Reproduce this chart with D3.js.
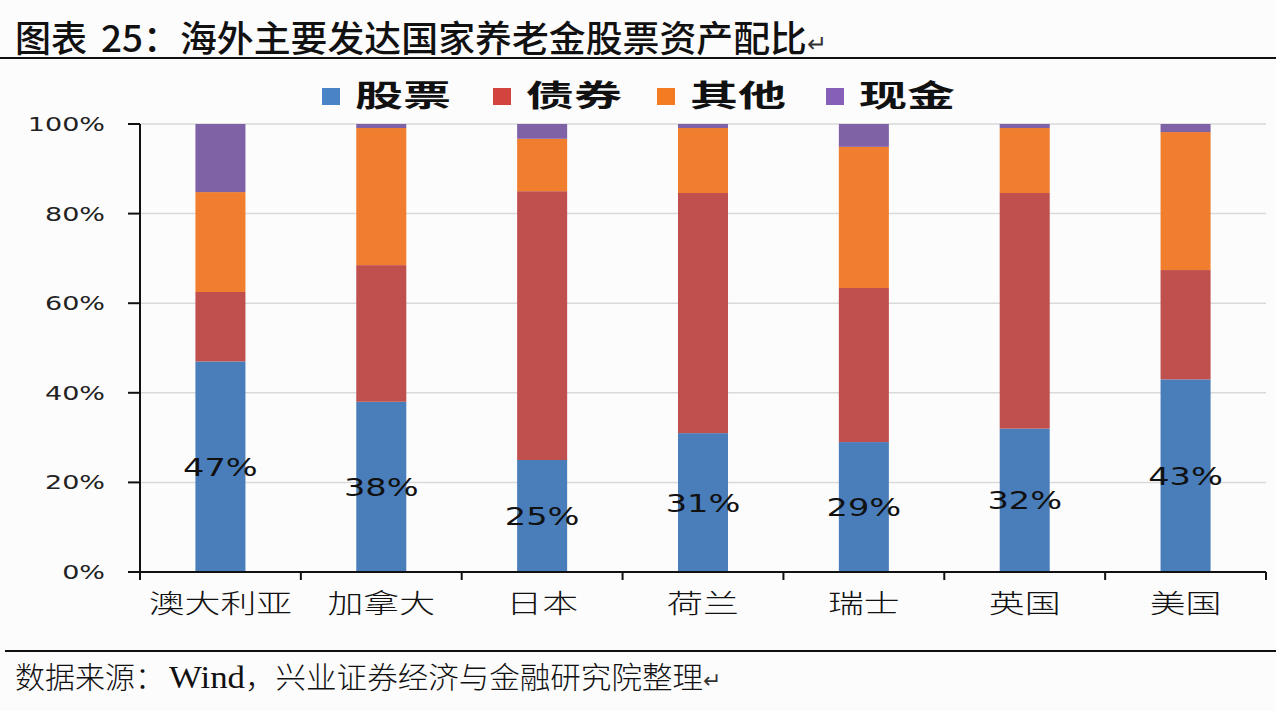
<!DOCTYPE html>
<html>
<head>
<meta charset="utf-8">
<script src="https://cdn.jsdelivr.net/npm/d3@7"></script>
<style>
  html, body { margin: 0; padding: 0; background: #fdfcfd; }
  svg { display: block; }
</style>
</head>
<body>
<svg id="chart" width="1276" height="711"></svg>
<script>
const countries = ['澳大利亚', '加拿大', '日本', '荷兰', '瑞士', '英国', '美国'];
const seriesNames = ['股票', '债券', '其他', '现金'];
const stock = [47, 38, 25, 31, 29, 32, 43];
const bond  = [15.5, 30.5, 60, 53.6, 34.4, 52.6, 24.4];
const other = [22.3, 30.6, 11.7, 14.5, 31.5, 14.5, 30.8];
const cash  = [15.2, 0.9, 3.3, 0.9, 5.1, 0.9, 1.8];
const stockLabels = ['47%', '38%', '25%', '31%', '29%', '32%', '43%'];
const yTicks = [0, 20, 40, 60, 80, 100];
const yTickLabels = ['0%', '20%', '40%', '60%', '80%', '100%'];
const titleParts = ['图表', '25：海外主要发达国家养老金股票资产配比'];
const sourceText = ['数据来源：', 'Wind', '，兴业证券经济与金融研究院整理'];

const barColors = ['#4a7ebb', '#c0504d', '#f07e2e', '#7f62a6'];
const legendColors = ['#4a84c6', '#d4443f', '#f57b22', '#8660b8'];

const svg = d3.select('#chart');
const W = 1276;

const rows = countries.map((c, i) => ({
  country: c, '股票': stock[i], '债券': bond[i], '其他': other[i], '现金': cash[i]
}));

const x = d3.scaleBand().domain(countries).range([140, 1266])
  .paddingInner(0.689).paddingOuter(0.3445);
const y = d3.scaleLinear().domain([0, 100]).range([572, 124]);

// Title
const title = svg.append('text')
  .attr('x', 15).attr('y', 52)
  .attr('font-family', '"Noto Sans CJK SC", sans-serif')
  .attr('font-weight', 500)
  .attr('font-size', 36)
  .attr('fill', '#111');
title.append('tspan').text(titleParts[0])
  .attr('textLength', 72).attr('lengthAdjust', 'spacingAndGlyphs');
title.append('tspan').text(titleParts[1]).attr('dx', 14)
  .attr('textLength', 706).attr('lengthAdjust', 'spacingAndGlyphs');
title.append('tspan').text('↵')
  .attr('font-family', '"DejaVu Sans", sans-serif')
  .attr('font-weight', 300)
  .attr('font-size', 24).attr('fill', '#333');

svg.append('line').attr('x1', 0).attr('x2', W).attr('y1', 58).attr('y2', 58)
  .attr('stroke', '#111').attr('stroke-width', 2);

// Gridlines
svg.append('g').selectAll('line').data(yTicks.filter(d => d > 0)).join('line')
  .attr('x1', 140).attr('x2', 1266)
  .attr('y1', d => y(d)).attr('y2', d => y(d))
  .attr('stroke', '#d9d9d9').attr('stroke-width', 1.5);

// Bars
const stacked = d3.stack().keys(seriesNames)(rows);
svg.append('g').selectAll('g').data(stacked).join('g')
  .attr('fill', (d, i) => barColors[i])
  .selectAll('rect').data(d => d).join('rect')
  .attr('x', d => x(d.data.country))
  .attr('width', x.bandwidth())
  .attr('y', d => y(d[1]))
  .attr('height', d => y(d[0]) - y(d[1]));

// Axes
const xAxisG = svg.append('g');
xAxisG.append('line').attr('x1', 140).attr('x2', 1266).attr('y1', y(0)).attr('y2', y(0))
  .attr('stroke', '#111').attr('stroke-width', 2);
const step = x.step();
const bounds = countries.map(c => x(c) + x.bandwidth() / 2 - step / 2);
bounds.push(x(countries[countries.length - 1]) + x.bandwidth() / 2 + step / 2);
xAxisG.selectAll('line.tick').data(bounds).join('line').attr('class', 'tick')
  .attr('x1', d => d).attr('x2', d => d).attr('y1', y(0)).attr('y2', y(0) + 8)
  .attr('stroke', '#111').attr('stroke-width', 2);

svg.append('line').attr('x1', 140).attr('x2', 140).attr('y1', y(100)).attr('y2', y(0) + 8)
  .attr('stroke', '#111').attr('stroke-width', 2);
svg.append('g').selectAll('line').data(yTicks).join('line')
  .attr('x1', 128).attr('x2', 140).attr('y1', d => y(d)).attr('y2', d => y(d))
  .attr('stroke', '#111').attr('stroke-width', 2);

// Y tick labels
svg.append('g').selectAll('text').data(yTicks).join('text')
  .attr('transform', d => `translate(105,${y(d) + 7}) scale(1.35,1)`)
  .attr('text-anchor', 'end')
  .attr('font-family', '"DejaVu Sans", sans-serif')
  .attr('font-size', 20)
  .attr('fill', '#222')
  .text((d, i) => yTickLabels[i]);

// X labels
svg.append('g').selectAll('text').data(countries).join('text')
  .attr('transform', d => `translate(${x(d) + x.bandwidth() / 2},613) scale(1.38,1)`)
  .attr('text-anchor', 'middle')
  .attr('font-family', '"Noto Sans CJK SC", sans-serif')
  .attr('font-weight', 300)
  .attr('font-size', 26)
  .attr('fill', '#111')
  .text(d => d);

// Data labels (stock)
svg.append('g').selectAll('text').data(stacked[0]).join('text')
  .attr('transform', d => `translate(${x(d.data.country) + x.bandwidth() / 2},${(y(d[0]) + y(d[1])) / 2 + 9}) scale(1.4,1)`)
  .attr('text-anchor', 'middle')
  .attr('font-family', '"DejaVu Sans", sans-serif')
  .attr('font-size', 24)
  .attr('fill', '#111')
  .text((d, i) => stockLabels[i]);

// Legend
const legendX = [322, 493, 657, 826];
const legend = svg.append('g').selectAll('g').data(seriesNames).join('g')
  .attr('transform', (d, i) => `translate(${legendX[i]},0)`);
legend.append('rect').attr('x', 0).attr('y', 88).attr('width', 18).attr('height', 17)
  .attr('fill', (d, i) => legendColors[i]);
legend.append('text').attr('x', 33).attr('y', 106)
  .attr('font-family', '"Noto Sans CJK SC", sans-serif')
  .attr('font-weight', 700)
  .attr('font-size', 30)
  .attr('fill', '#111')
  .attr('textLength', 96).attr('lengthAdjust', 'spacingAndGlyphs')
  .text(d => d);

// Footer
svg.append('line').attr('x1', 5).attr('x2', W).attr('y1', 651).attr('y2', 651)
  .attr('stroke', '#111').attr('stroke-width', 2);
const src = svg.append('text').attr('x', 15).attr('y', 688)
  .attr('font-family', '"Noto Sans CJK SC", sans-serif')
  .attr('font-weight', 300)
  .attr('font-size', 30).attr('fill', '#111');
src.append('tspan').text(sourceText[0]);
src.append('tspan').text(sourceText[1]).attr('dx', 4)
  .attr('font-family', '"Liberation Serif", serif').attr('font-size', 32)
  .attr('textLength', 76).attr('lengthAdjust', 'spacingAndGlyphs');
src.append('tspan').text(sourceText[2])
  .attr('textLength', 458).attr('lengthAdjust', 'spacingAndGlyphs');
src.append('tspan').text('↵').attr('font-family', '"DejaVu Sans", sans-serif')
  .attr('font-weight', 300).attr('font-size', 22).attr('fill', '#333');
</script>
</body>
</html>
